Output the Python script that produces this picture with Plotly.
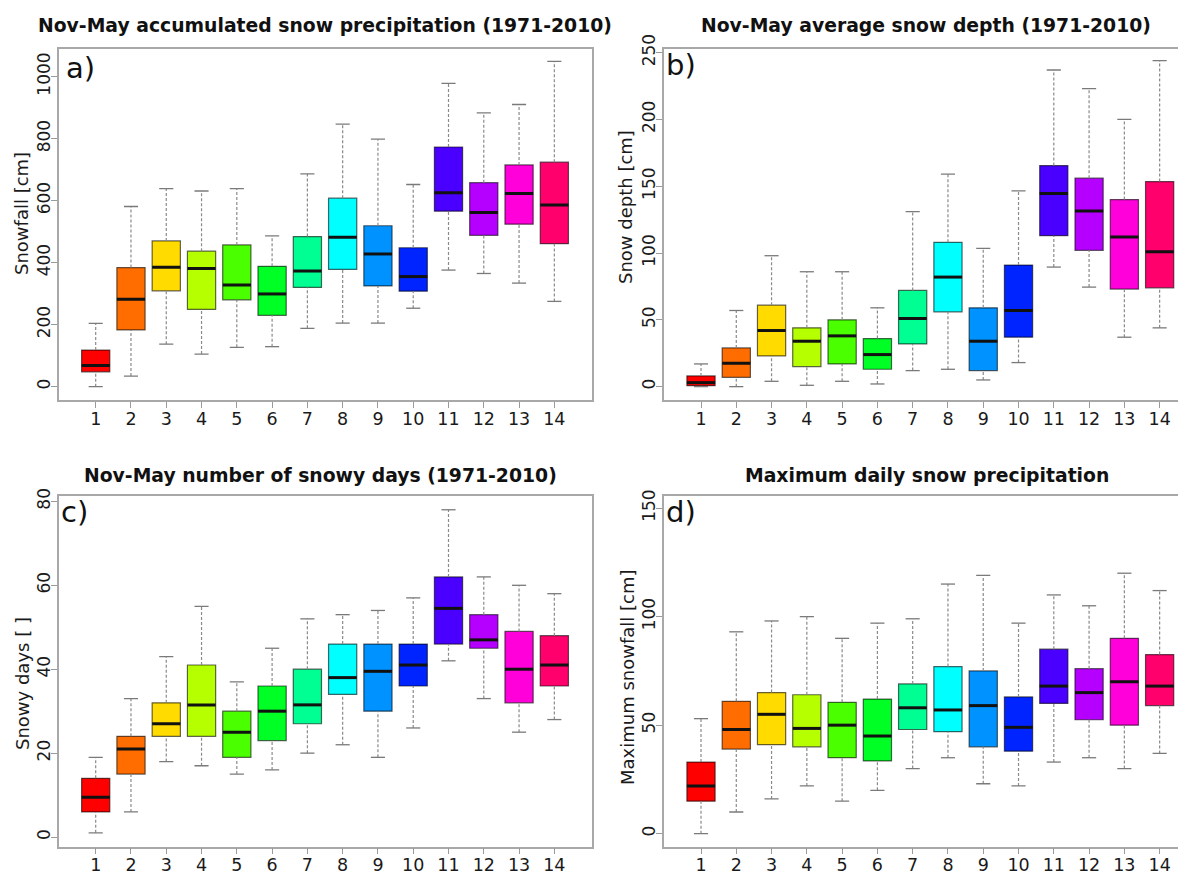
import plotly.graph_objects as go

W, H = 1186, 873
# the page body adds an 8px margin; positions below are screen pixels
OX, OY = 8, 8

categories = list(range(1, 15))
colors = ["#FF0000", "#FF6D00", "#FFDB00", "#B6FF00", "#49FF00", "#00FF24", "#00FF92",
          "#00FFFF", "#0092FF", "#0024FF", "#4900FF", "#B600FF", "#FF00DB", "#FF006D"]

# a) Nov-May accumulated snow precipitation
a_lo = [0, 34, 137, 105, 127, 129, 188, 205, 205, 253, 376, 365, 334, 275]
a_q1 = [48, 183, 309, 249, 280, 230, 320, 378, 325, 308, 566, 488, 524, 461]
a_med = [68, 282, 385, 381, 328, 299, 373, 482, 428, 355, 625, 562, 623, 586]
a_q3 = [118, 384, 470, 437, 457, 388, 484, 608, 519, 448, 773, 658, 715, 724]
a_hi = [204, 581, 639, 631, 639, 486, 686, 847, 798, 652, 978, 883, 910, 1049]

# b) Nov-May average snow depth
b_lo = [0, 0, 4, 1, 4, 2, 12, 13, 5, 18, 89.5, 74.5, 37, 44]
b_q1 = [0.75, 7, 23, 15, 17, 13, 32, 56, 12, 37, 113, 102, 73, 74]
b_med = [3, 17.5, 42, 34, 38, 24, 51, 82, 34, 57, 144.5, 131.5, 112, 101]
b_q3 = [8, 29, 61, 44, 50, 36, 72, 108, 59, 91, 165.5, 156, 140, 153.5]
b_hi = [17, 57, 98, 86, 86, 59, 131, 159, 103.5, 146.5, 237, 223, 200, 244]

# c) Nov-May number of snowy days
c_lo = [1, 6, 18, 17, 15, 16, 20, 22, 19, 26, 42, 33, 25, 28]
c_q1 = [6, 15, 24, 24, 19, 23, 27, 34, 30, 36, 46, 45, 32, 36]
c_med = [9.5, 21, 27, 31.5, 25, 30, 31.5, 38, 39.5, 41, 54.5, 47, 40, 41]
c_q3 = [14, 24, 32, 41, 30, 36, 40, 46, 46, 46, 62, 53, 49, 48]
c_hi = [19, 33, 43, 55, 37, 45, 52, 53, 54, 57, 78, 62, 60, 58]

# d) Maximum daily snow precipitation
d_lo = [0, 10, 16, 22, 15, 20, 30, 35, 23, 22, 33, 35, 30, 37]
d_q1 = [15, 39, 41, 40, 35, 33.5, 48, 47, 40, 38, 60, 52.5, 50, 59]
d_med = [22, 48, 55, 48.5, 50, 45, 58, 57, 59, 49, 68, 65, 70, 68]
d_q3 = [33, 61, 65, 64, 60.5, 62, 69, 77, 75, 63, 85, 76, 90, 82.5]
d_hi = [53, 93, 98, 100, 90, 97, 99, 115, 119, 97, 110, 105, 120, 112]

titles = ["Nov-May accumulated snow precipitation (1971-2010)",
          "Nov-May average snow depth (1971-2010)",
          "Nov-May number of snowy days (1971-2010)",
          "Maximum daily snow precipitation"]
ytitles = ["Snowfall [cm]", "Snow depth [cm]", "Snowy days [ ]", "Maximum snowfall [cm]"]
panel_labels = ["a)", "b)", "c)", "d)"]
yticks = [[0, 200, 400, 600, 800, 1000], [0, 50, 100, 150, 200, 250],
          [0, 20, 40, 60, 80], [0, 50, 100, 150]]

panels = [(a_lo, a_q1, a_med, a_q3, a_hi), (b_lo, b_q1, b_med, b_q3, b_hi),
          (c_lo, c_q1, c_med, c_q3, c_hi), (d_lo, d_q1, d_med, d_q3, d_hi)]

# layout geometry (screen pixels): left, right, top, bottom of each frame
frames = [
    (58.6, 592, 49.3, 400),
    (664, W + OX, 49.3, 400),
    (58.6, 592, 495.5, 846.5),
    (664, W + OX, 495.5, 846.5),
]
first_tick = [95.7, 701.0, 95.7, 701.0]   # screen x of category 1
step = 35.28                              # px per category
yranges = [[-43, 1088], [-10, 252.5], [-2.25, 81.4], [-5.9, 155.8]]


def fx(px):
    return (px - OX) / W


def fy(py):
    return 1 - (py - OY) / H


FONT = "DejaVu Sans"
fig = go.Figure()

for p, (lo, q1, med, q3, hi) in enumerate(panels):
    xa = "x" if p == 0 else f"x{p+1}"
    ya = "y" if p == 0 else f"y{p+1}"
    # whiskers
    wx, wy = [], []
    for c, l, a, b, h in zip(categories, lo, q1, q3, hi):
        wx += [c, c, None, c, c, None]
        wy += [b, h, None, l, a, None]
    fig.add_trace(go.Scatter(x=wx, y=wy, mode="lines", xaxis=xa, yaxis=ya,
                             line=dict(color="#8a8a8a", width=1.2, dash="3px,2px"),
                             hoverinfo="skip"))
    # caps
    cx, cy = [], []
    for c, l, h in zip(categories, lo, hi):
        cx += [c - 0.2, c + 0.2, None, c - 0.2, c + 0.2, None]
        cy += [h, h, None, l, l, None]
    fig.add_trace(go.Scatter(x=cx, y=cy, mode="lines", xaxis=xa, yaxis=ya,
                             line=dict(color="#7a7a7a", width=1.3),
                             hoverinfo="skip"))
    # boxes
    for c, a, m, b, col in zip(categories, q1, med, q3, colors):
        fig.add_trace(go.Box(x=[c], q1=[a], median=[m], q3=[b], lowerfence=[a],
                             upperfence=[b], width=0.8, whiskerwidth=0,
                             fillcolor=col, boxpoints=False,
                             line=dict(color="rgba(0,0,0,0.6)", width=1.2),
                             xaxis=xa, yaxis=ya, hoverinfo="skip"))
    # medians
    mx, my = [], []
    for c, m in zip(categories, med):
        mx += [c - 0.4, c + 0.4, None]
        my += [m, m, None]
    fig.add_trace(go.Scatter(x=mx, y=my, mode="lines", xaxis=xa, yaxis=ya,
                             line=dict(color="#111111", width=3),
                             hoverinfo="skip"))

layout = dict(width=W, height=H, margin=dict(l=0, r=0, t=0, b=0, autoexpand=False),
              paper_bgcolor="white", plot_bgcolor="white", showlegend=False,
              boxmode="overlay", font=dict(family=FONT, color="#1a1a1a"))

for p in range(4):
    L, R, T, B = frames[p]
    xk = "xaxis" if p == 0 else f"xaxis{p+1}"
    yk = "yaxis" if p == 0 else f"yaxis{p+1}"
    ya = "y" if p == 0 else f"y{p+1}"
    xa = "x" if p == 0 else f"x{p+1}"
    full = p in (0, 2)
    x0 = 1 - (first_tick[p] - L) / step
    x1 = 1 + (R - first_tick[p]) / step
    layout[xk] = dict(domain=[max(fx(L), 0), min(fx(R), 1)], range=[x0, x1], anchor=ya,
                      automargin=False,
                      tickvals=categories, ticktext=[str(c) for c in categories],
                      ticks="outside", ticklen=6, tickcolor="#9a9a9a", tickwidth=1.3,
                      ticklabelstandoff=-4,
                      showline=True, linecolor="#a8a8a8", linewidth=1.6, mirror=True,
                      showgrid=False, zeroline=False,
                      tickfont=dict(family=FONT, size=17.5, color="#1a1a1a"))
    layout[yk] = dict(domain=[fy(B), fy(T)], range=yranges[p], anchor=xa,
                      automargin=False,
                      tickvals=yticks[p], tickangle=-90,
                      ticks="outside", ticklen=6, tickcolor="#9a9a9a", tickwidth=1.3,
                      ticklabelstandoff=-6,
                      showline=True, linecolor="#a8a8a8", linewidth=1.6, mirror=full,
                      showgrid=False, zeroline=False,
                      tickfont=dict(family=FONT, size=17, color="#1a1a1a"))

title_pos = [(324.5, 25), (925.6, 25), (320.6, 475.5), (926.5, 475.5)]
ytitle_pos = [(21, 214), (626, 207), (22, 684), (627, 677)]
label_pos = [(64, 68), (664, 65), (59, 512), (664, 512)]
annotations = []
for p in range(4):
    tx, ty = title_pos[p]
    annotations.append(dict(text=titles[p], x=fx(tx), y=fy(ty), xref="paper", yref="paper",
                            xanchor="center", yanchor="middle", showarrow=False,
                            font=dict(family=FONT, size=18.8, color="#111111", weight="bold")))
    ax_, ay_ = ytitle_pos[p]
    annotations.append(dict(text=ytitles[p], x=fx(ax_), y=fy(ay_), xref="paper", yref="paper",
                            xanchor="center", yanchor="middle", showarrow=False, textangle=-90,
                            font=dict(family=FONT, size=18, color="#1a1a1a")))
    lx, ly = label_pos[p]
    annotations.append(dict(text=panel_labels[p], x=fx(lx), y=fy(ly), xref="paper", yref="paper",
                            xanchor="left", yanchor="middle", showarrow=False,
                            font=dict(family=FONT, size=29, color="#111111")))
layout["annotations"] = annotations

fig.update_layout(**layout)
fig.write_html("out.html")
